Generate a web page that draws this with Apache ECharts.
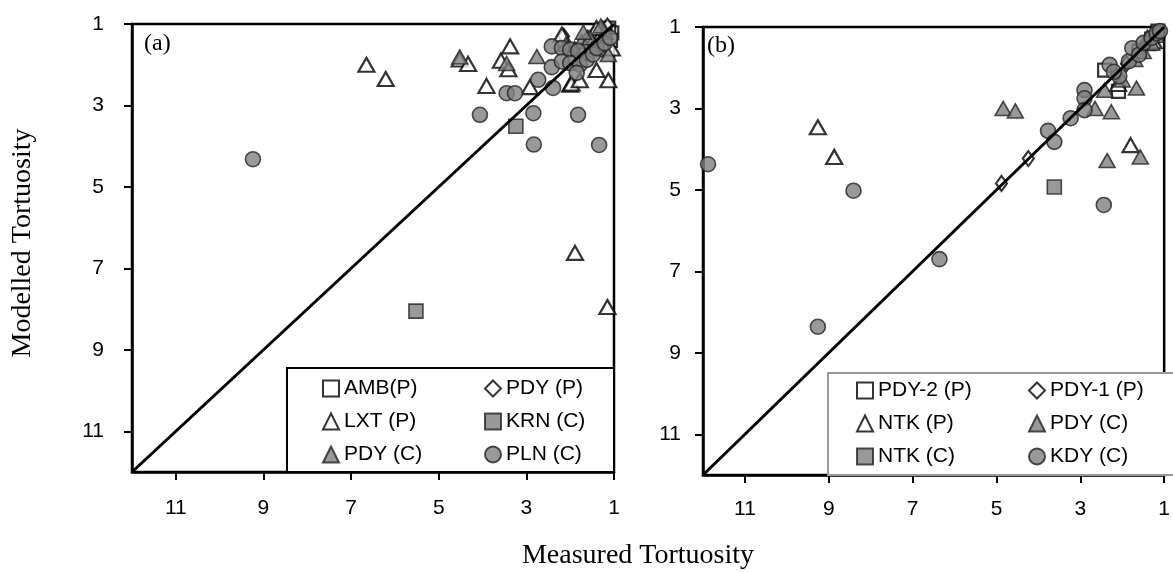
<!DOCTYPE html>
<html>
<head>
<meta charset="utf-8">
<script src="https://cdn.jsdelivr.net/npm/echarts@6/dist/echarts.min.js"></script>
<style>
  html, body { margin: 0; padding: 0; background: #fff; }
  #main { width: 1173px; height: 572px; }
</style>
</head>
<body>
<div id="main"></div>
<script>
// tick values shared by both panels
var tickValues = [1, 3, 5, 7, 9, 11];
var oneToOne = [[12, 12], [1, 1]];

// panel (a) : [measured, modelled]
var ambP = [[1.05, 1.22], [1.12, 1.1], [1.2, 1.3], [1.08, 1.4]];
var pdyP = [[2.15, 1.3], [1.45, 1.25], [1.3, 1.15], [1.6, 1.35], [1.15, 1.05]];
var lxtP = [[6.65, 2.0], [6.21, 2.35], [4.52, 1.87], [4.33, 1.98], [3.37, 1.55], [3.58, 1.9],
            [3.41, 2.11], [3.91, 2.52], [2.92, 2.55], [2.19, 1.26], [2.0, 2.49], [1.97, 2.46],
            [1.78, 2.38], [1.4, 2.13], [1.13, 2.38], [1.89, 6.62], [1.15, 7.95],
            [1.5, 1.45], [1.35, 1.35], [1.65, 1.55], [1.25, 1.5], [1.4, 1.1], [1.05, 1.6]];
var krnC = [[3.24, 3.51], [5.52, 8.05]];
var pdyCa = [[2.76, 1.8], [1.13, 1.75], [1.43, 1.63], [1.74, 1.43], [1.55, 1.34], [4.52, 1.81],
             [3.45, 1.97], [1.2, 1.2], [1.9, 1.6], [2.1, 1.5], [1.3, 1.05], [1.7, 1.2]];
var plnC = [[9.24, 4.32], [4.06, 3.23], [3.45, 2.7], [3.26, 2.7], [2.84, 3.19], [2.83, 3.96],
            [1.82, 3.23], [1.34, 3.97], [2.73, 2.37], [2.39, 2.57], [2.42, 1.55], [2.19, 1.59],
            [2.0, 1.63], [1.82, 1.66], [2.42, 2.06], [2.19, 1.92], [2.0, 1.96], [1.78, 2.0],
            [1.62, 1.88], [1.48, 1.75], [1.85, 2.2], [1.39, 1.59], [1.21, 1.47], [1.09, 1.34]];

// panel (b)
var pdy2P = [[2.42, 2.06], [2.09, 2.58], [1.6, 1.6], [1.3, 1.3], [1.15, 1.1]];
var pdy1P = [[4.24, 4.23], [4.88, 4.84], [1.9, 1.9], [1.5, 1.5], [1.2, 1.2]];
var ntkP = [[9.26, 3.46], [8.87, 4.19], [1.8, 3.9], [2.1, 2.4], [1.4, 1.4], [1.25, 1.35]];
var pdyCb = [[4.84, 3.0], [4.55, 3.06], [2.65, 3.0], [2.26, 3.08], [2.36, 4.28], [1.57, 4.19],
             [2.42, 2.55], [1.66, 2.5], [2.0, 2.3], [1.5, 1.6], [1.3, 1.4], [1.2, 1.2],
             [1.4, 1.25], [1.7, 1.8]];
var ntkC = [[3.62, 4.93]];
var kdyC = [[11.88, 4.37], [8.41, 5.02], [6.36, 6.7], [9.26, 8.36], [2.44, 5.37], [3.77, 3.55],
            [3.62, 3.82], [3.23, 3.24], [2.9, 2.55], [2.9, 2.75], [2.9, 3.04], [2.3, 1.93],
            [2.07, 2.21], [2.2, 2.1], [1.84, 1.84], [1.76, 1.52], [1.6, 1.68], [1.49, 1.39],
            [1.3, 1.27], [1.18, 1.15], [1.1, 1.1]];

var chart = echarts.init(document.getElementById('main'));

var labelFont = 'Liberation Sans';
var grayFill = '#7f7f7f';

// open / filled marker styles
var openStyle = { color: '#fff', borderColor: '#000', borderWidth: 2.2 };
var grayStyle = { color: grayFill, borderColor: '#222', borderWidth: 1.6 };

function makeAxis(idx, margin) {
    return {
        gridIndex: idx, type: 'value', min: 1, max: 12, inverse: true,
        axisLine: { show: true, lineStyle: { color: '#000', width: 2.5 } },
        axisTick: { show: true, inside: false, length: 8, customValues: tickValues,
                    lineStyle: { color: '#000', width: 2 } },
        axisLabel: { customValues: tickValues, margin: margin, color: '#000',
                     fontFamily: labelFont, fontSize: 21 },
        splitLine: { show: false }
    };
}
function sc(name, idx, data, symbol, size, style) {
    return {
        name: name, type: 'scatter', xAxisIndex: idx, yAxisIndex: idx,
        data: data, symbol: symbol, symbolSize: size, itemStyle: style,
        clip: false, z: 3
    };
}
function legendCol(names, left, top, gap) {
    return {
        orient: 'vertical', left: left, top: top, padding: 0, itemGap: gap,
        itemWidth: 16, itemHeight: 16, data: names, selectedMode: false,
        textStyle: { fontFamily: labelFont, fontSize: 21, color: '#000' }
    };
}

chart.setOption({
    animation: false,
    grid: [
        { left: 132, top: 24, width: 482, height: 448, show: true,
          borderColor: '#000', borderWidth: 2.5, backgroundColor: 'transparent' },
        { left: 703, top: 27, width: 473, height: 448, show: true,
          borderColor: '#000', borderWidth: 2.5, backgroundColor: 'transparent' }
    ],
    xAxis: [makeAxis(0, 26), makeAxis(1, 24)],
    yAxis: [makeAxis(0, 28), makeAxis(1, 22)],
    legend: [
        legendCol(['AMB(P)', 'LXT (P)', 'PDY (C)'], 322, 378, 12),
        legendCol(['PDY (P)', 'KRN (C)', 'PLN (C)'], 484, 378, 12),
        legendCol(['PDY-2 (P)', 'NTK (P)', 'NTK (C)'], 856, 380, 12),
        legendCol(['PDY-1 (P)', 'PDY (C) ', 'KDY (C)'], 1028, 380, 12)
    ],
    graphic: [
        { type: 'rect', shape: { x: 287, y: 368, width: 327, height: 104 },
          style: { fill: '#fff', stroke: '#000', lineWidth: 2 }, z: 1 },
        { type: 'rect', shape: { x: 828, y: 373, width: 350, height: 102 },
          style: { fill: '#fff', stroke: '#9a9a9a', lineWidth: 2 }, z: 1 },
        { type: 'text', x: 23, y: 243, rotation: Math.PI / 2,
          style: { text: 'Modelled Tortuosity', fill: '#000', font: '28px "Liberation Serif"',
                   textAlign: 'center', textVerticalAlign: 'middle' } },
        { type: 'text', x: 638, y: 556,
          style: { text: 'Measured Tortuosity', fill: '#000', font: '28px "Liberation Serif"',
                   textAlign: 'center', textVerticalAlign: 'middle' } },
        { type: 'text', x: 144, y: 44,
          style: { text: '(a)', fill: '#000', font: '24px "Liberation Serif"',
                   textVerticalAlign: 'middle' } },
        { type: 'text', x: 707, y: 46,
          style: { text: '(b)', fill: '#000', font: '24px "Liberation Serif"',
                   textVerticalAlign: 'middle' } }
    ],
    series: [
        sc('AMB(P)', 0, ambP, 'rect', 13, openStyle),
        sc('PDY (P)', 0, pdyP, 'diamond', [11, 15], openStyle),
        sc('LXT (P)', 0, lxtP, 'triangle', [16, 14], openStyle),
        sc('KRN (C)', 0, krnC, 'rect', 14, grayStyle),
        sc('PDY (C)', 0, pdyCa, 'triangle', [16, 14], grayStyle),
        sc('PLN (C)', 0, plnC, 'circle', 15, grayStyle),
        { type: 'line', xAxisIndex: 0, yAxisIndex: 0, data: oneToOne, symbol: 'none',
          lineStyle: { color: '#000', width: 3 }, z: 4, silent: true },

        sc('PDY-2 (P)', 1, pdy2P, 'rect', 13, openStyle),
        sc('PDY-1 (P)', 1, pdy1P, 'diamond', [11, 15], openStyle),
        sc('NTK (P)', 1, ntkP, 'triangle', [16, 14], openStyle),
        sc('PDY (C) ', 1, pdyCb, 'triangle', [16, 14], grayStyle),
        sc('NTK (C)', 1, ntkC, 'rect', 14, grayStyle),
        sc('KDY (C)', 1, kdyC, 'circle', 15, grayStyle),
        { type: 'line', xAxisIndex: 1, yAxisIndex: 1, data: oneToOne, symbol: 'none',
          lineStyle: { color: '#000', width: 3 }, z: 4, silent: true }
    ]
});
</script>
</body>
</html>
